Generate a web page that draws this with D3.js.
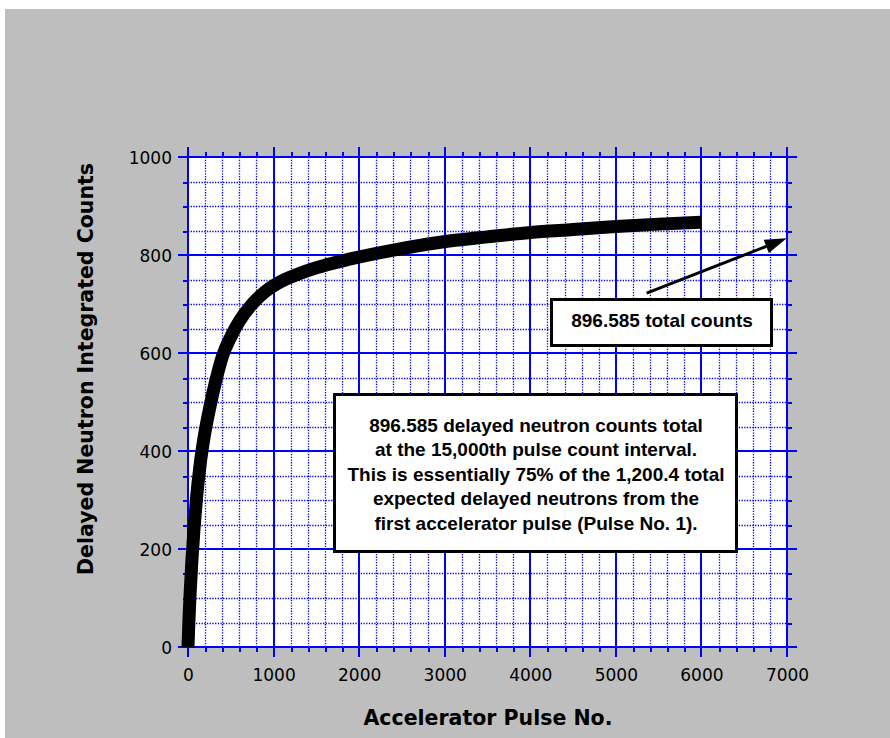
<!DOCTYPE html>
<html>
<head>
<meta charset="utf-8">
<script src="https://cdn.jsdelivr.net/npm/d3@7"></script>
<style>
  html, body { margin: 0; padding: 0; background: #ffffff; }
  svg { display: block; }
  .tick-label { font-family: "DejaVu Sans", Verdana, sans-serif; font-size: 17px; fill: #000; }
  .axis-title { font-family: "DejaVu Sans", Verdana, sans-serif; font-size: 20.5px; font-weight: bold; fill: #000; }
  .note { font-family: "Liberation Sans", Arial, sans-serif; font-size: 19px; font-weight: bold; fill: #000; }
</style>
</head>
<body>
<script>
// Integrated delayed-neutron counts versus accelerator pulse number
const pulseNo = [0, 10, 25, 45, 70, 100, 140, 190, 250, 320, 400, 500, 600, 750, 900,
                 1075, 1300, 1500, 1900, 2400, 2950, 3500, 4000, 4500, 5000, 5500, 6000];
const integratedCounts = [0, 50, 110, 175, 240, 305, 370, 430, 485, 540, 592, 633, 665, 700, 725,
                          745, 762, 774, 792, 810, 826, 837, 846, 852, 858, 863, 867];

const xMajorTicks = [0, 1000, 2000, 3000, 4000, 5000, 6000, 7000];
const yMajorTicks = [0, 200, 400, 600, 800, 1000];

const xTitle = "Accelerator Pulse No.";
const yTitle = "Delayed Neutron Integrated Counts";
const totalNote = "896.585 total counts";
const summaryNote = [
  "896.585 delayed neutron counts total",
  "at the 15,000th pulse count interval.",
  "This is essentially 75% of the 1,200.4 total",
  "expected delayed neutrons from the",
  "first accelerator pulse (Pulse No. 1)."
];

const W = 890, H = 738;
const plot = { left: 188, right: 787, top: 157, bottom: 647 };
const blue = "#0000ff";

const svg = d3.select("body").append("svg").attr("width", W).attr("height", H);

// grey panel
svg.append("rect").attr("x", 5).attr("y", 9).attr("width", W - 5).attr("height", H - 9)
  .attr("fill", "#bebebe");

const x = d3.scaleLinear().domain([0, 7000]).range([plot.left, plot.right]);
const y = d3.scaleLinear().domain([0, 1000]).range([plot.bottom, plot.top]);
const px = v => Math.round(x(v)) + 0.5;   // pixel-aligned 1px positions
const py = v => Math.round(y(v)) + 0.5;

// plotting area
svg.append("rect").attr("x", plot.left).attr("y", plot.top)
  .attr("width", plot.right - plot.left).attr("height", plot.bottom - plot.top)
  .attr("fill", "#ffffff");

const xMinor = d3.range(0, 7001, 200).filter(v => v % 1000 !== 0);
const yMinor = d3.range(0, 1001, 50).filter(v => v % 200 !== 0);

// dotted minor grid
const dots = svg.append("g");
dots.selectAll("line.xm").data(xMinor).join("line")
  .attr("x1", d => px(d)).attr("x2", d => px(d))
  .attr("y1", plot.top).attr("y2", plot.bottom)
  .attr("stroke", blue).attr("stroke-width", 1.3).attr("stroke-dasharray", "1.3,1.4");
dots.selectAll("line.ym").data(yMinor).join("line")
  .attr("y1", d => py(d)).attr("y2", d => py(d))
  .attr("x1", plot.left).attr("x2", plot.right)
  .attr("stroke", blue).attr("stroke-width", 1.3).attr("stroke-dasharray", "1.3,1.4");

const grid = svg.append("g").attr("shape-rendering", "crispEdges");

// minor ticks outside all four edges
const minorLen = 5, majorLen = 10;
xMinor.forEach(v => {
  grid.append("line").attr("x1", px(v)).attr("x2", px(v)).attr("y1", plot.top - minorLen).attr("y2", plot.top)
    .attr("stroke", blue).attr("stroke-width", 2);
  grid.append("line").attr("x1", px(v)).attr("x2", px(v)).attr("y1", plot.bottom).attr("y2", plot.bottom + minorLen)
    .attr("stroke", blue).attr("stroke-width", 2);
});
yMinor.forEach(v => {
  grid.append("line").attr("y1", py(v)).attr("y2", py(v)).attr("x1", plot.left - minorLen).attr("x2", plot.left)
    .attr("stroke", blue).attr("stroke-width", 2);
  grid.append("line").attr("y1", py(v)).attr("y2", py(v)).attr("x1", plot.right).attr("x2", plot.right + minorLen)
    .attr("stroke", blue).attr("stroke-width", 2);
});

// solid major grid lines, extended past the frame as major ticks
grid.selectAll("line.xM").data(xMajorTicks).join("line")
  .attr("x1", d => Math.round(x(d))).attr("x2", d => Math.round(x(d)))
  .attr("y1", plot.top - majorLen).attr("y2", plot.bottom + majorLen)
  .attr("stroke", blue).attr("stroke-width", 2);
grid.selectAll("line.yM").data(yMajorTicks).join("line")
  .attr("y1", d => Math.round(y(d))).attr("y2", d => Math.round(y(d)))
  .attr("x1", plot.left - majorLen).attr("x2", plot.right + majorLen)
  .attr("stroke", blue).attr("stroke-width", 2);

// axis labels
const xAxis = d3.axisBottom(x).tickValues(xMajorTicks).tickSize(0).tickPadding(0).tickFormat(d3.format("d"));
const gx = svg.append("g").attr("transform", `translate(0,${plot.bottom + 18})`).call(xAxis);
gx.select(".domain").remove();
gx.selectAll("text").attr("class", "tick-label").attr("dy", null).attr("y", 16)
  .attr("fill", null).attr("font-size", null).attr("font-family", null);

const yAxis = d3.axisLeft(y).tickValues(yMajorTicks).tickSize(0).tickPadding(0).tickFormat(d3.format("d"));
const gy = svg.append("g").attr("transform", `translate(${plot.left - 16},0)`).call(yAxis);
gy.select(".domain").remove();
gy.selectAll("text").attr("class", "tick-label").attr("dy", "0.36em")
  .attr("fill", null).attr("font-size", null).attr("font-family", null);

// axis titles
svg.append("text").attr("class", "axis-title")
  .attr("x", 488).attr("y", 725).attr("text-anchor", "middle").text(xTitle);
svg.append("text").attr("class", "axis-title")
  .attr("transform", "translate(93,369) rotate(-90)").attr("text-anchor", "middle").text(yTitle);

// integrated count curve
const line = d3.line()
  .x((d, i) => x(pulseNo[i]))
  .y(d => y(d))
  .curve(d3.curveMonotoneX);
svg.append("path").datum(integratedCounts)
  .attr("d", line)
  .attr("fill", "none").attr("stroke", "#000").attr("stroke-width", 13)
  .attr("stroke-linejoin", "round").attr("stroke-linecap", "butt");

// arrow pointing to the asymptotic total
const arrowFrom = [5360, 722], arrowTo = [6997, 834];
const ax1 = x(arrowFrom[0]), ay1 = y(arrowFrom[1]), ax2 = x(arrowTo[0]), ay2 = y(arrowTo[1]);
const len = Math.hypot(ax2 - ax1, ay2 - ay1);
const ux = (ax2 - ax1) / len, uy = (ay2 - ay1) / len;
const headL = 22, headW = 7;
svg.append("line").attr("x1", ax1).attr("y1", ay1)
  .attr("x2", ax2 - ux * (headL - 2)).attr("y2", ay2 - uy * (headL - 2))
  .attr("stroke", "#000").attr("stroke-width", 3);
const bx = ax2 - ux * headL, by = ay2 - uy * headL;
svg.append("polygon")
  .attr("points", [[ax2, ay2], [bx - uy * headW, by + ux * headW], [bx + uy * headW, by - ux * headW]]
    .map(p => p.join(",")).join(" "))
  .attr("fill", "#000");

// "total counts" note
svg.append("rect").attr("x", 551.5).attr("y", 299.5).attr("width", 220).attr("height", 46)
  .attr("fill", "#fff").attr("stroke", "#000").attr("stroke-width", 3);
svg.append("text").attr("class", "note").attr("x", 662).attr("y", 327)
  .attr("text-anchor", "middle").text(totalNote);

// summary note
svg.append("rect").attr("x", 334.5).attr("y", 394.5).attr("width", 402).attr("height", 157)
  .attr("fill", "#fff").attr("stroke", "#000").attr("stroke-width", 3);
svg.append("g").selectAll("text").data(summaryNote).join("text")
  .attr("class", "note")
  .attr("x", 536).attr("y", (d, i) => 431.5 + i * 24.6)
  .attr("text-anchor", "middle").text(d => d);
</script>
</body>
</html>
